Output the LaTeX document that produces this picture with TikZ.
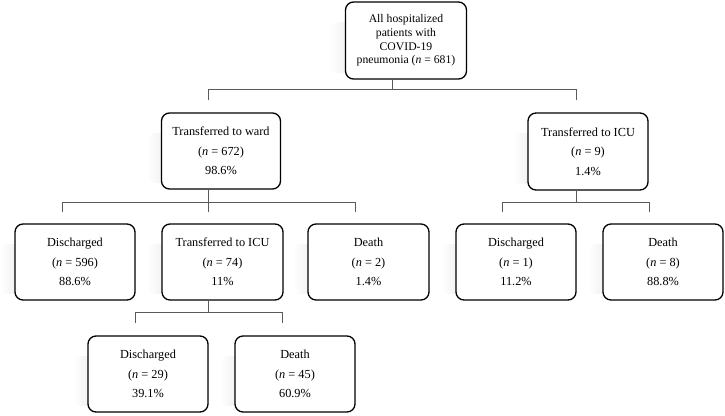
\documentclass[tikz,border=0pt]{standalone}
\usepackage{fontspec}
\setmainfont{Liberation Serif}
\usetikzlibrary{calc}
\begin{document}
\begin{tikzpicture}[x=1pt,y=-1pt,
  box/.style={draw=black,line width=1.3pt,rounded corners=8pt,fill=white,align=center,
     inner sep=0pt,font=\fontsize{12.3}{19.5}\selectfont},
  conn/.style={draw=black!65,line width=0.9pt},
  shadowfx/.style={left color=white,right color=black!15,rounded corners=8pt}]
\useasboundingbox (0,0) rectangle (725,415);
% shadows
\foreach \l/\t/\b in {345/2/79,162/113/189,528/113/190,15/224/300,162/224/300,308/224/300,456/224/300,603/224/300,88/336/412,235/336/412}{
  \shade[shadowfx] (\l-15,\t+20) rectangle (\l+30,\b-6);
}
% boxes
\node[box,minimum width=121pt,minimum height=77pt,font=\fontsize{11.7}{13.6}\selectfont] (top) at (406,40.5)
  {All hospitalized\\patients with\\COVID-19\\pneumonia (\textit{n} = 681)};
\node[box,minimum width=119pt,minimum height=76pt] (ward) at (221,151) {Transferred to ward\\(\textit{n} = 672)\\98.6\%};
\node[box,minimum width=120pt,minimum height=77pt] (icua) at (588,151.5) {Transferred to ICU\\(\textit{n} = 9)\\1.4\%};
\node[box,minimum width=120pt,minimum height=76pt] (disa) at (75,262) {Discharged\\(\textit{n} = 596)\\88.6\%};
\node[box,minimum width=121pt,minimum height=76pt] (icub) at (222.5,262) {Transferred to ICU\\(\textit{n} = 74)\\11\%};
\node[box,minimum width=121pt,minimum height=76pt] (dtha) at (368.5,262) {Death\\(\textit{n} = 2)\\1.4\%};
\node[box,minimum width=120pt,minimum height=76pt] (disb) at (516,262) {Discharged\\(\textit{n} = 1)\\11.2\%};
\node[box,minimum width=120pt,minimum height=76pt] (dthb) at (663,262) {Death\\(\textit{n} = 8)\\88.8\%};
\node[box,minimum width=120pt,minimum height=76pt] (disc) at (148,374) {Discharged\\(\textit{n} = 29)\\39.1\%};
\node[box,minimum width=120pt,minimum height=76pt] (dthc) at (295,374) {Death\\(\textit{n} = 45)\\60.9\%};
% connector coordinates
\coordinate (j0) at (392,89);
\coordinate (j0l) at (208,89); \coordinate (j0r) at (576,89);
\coordinate (e0l) at (208,100); \coordinate (e0r) at (576,100);
\coordinate (j1) at (208,202);
\coordinate (j1l) at (62,202); \coordinate (j1r) at (355,202);
\coordinate (e1l) at (62,212); \coordinate (e1m) at (208,212); \coordinate (e1r) at (355,212);
\coordinate (j2) at (576,202);
\coordinate (j2l) at (502,202); \coordinate (j2r) at (649,202);
\coordinate (e2l) at (502,212); \coordinate (e2r) at (649,212);
\coordinate (j3) at (208,312);
\coordinate (j3l) at (135,312); \coordinate (j3r) at (282,312);
\coordinate (e3l) at (135,323); \coordinate (e3r) at (282,323);
% connectors
\draw[conn] (top.south -| j0) -- (j0);
\draw[conn] (e0l) -- (j0l) -- (j0r) -- (e0r);
\draw[conn] (ward.south -| j1) -- (e1m);
\draw[conn] (e1l) -- (j1l) -- (j1r) -- (e1r);
\draw[conn] (icua.south -| j2) -- (j2);
\draw[conn] (e2l) -- (j2l) -- (j2r) -- (e2r);
\draw[conn] (icub.south -| j3) -- (j3);
\draw[conn] (e3l) -- (j3l) -- (j3r) -- (e3r);
\end{tikzpicture}
\end{document}
